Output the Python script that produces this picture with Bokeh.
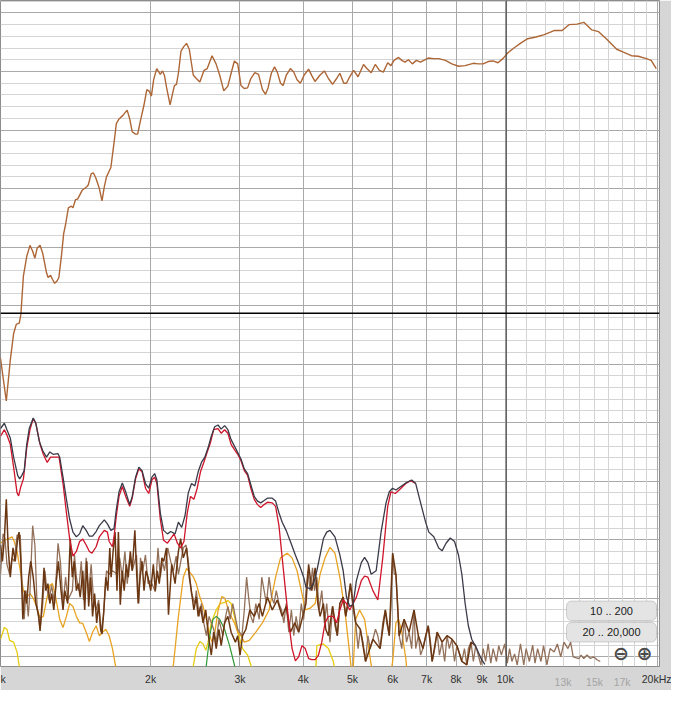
from bokeh.plotting import figure
from bokeh.models import Range1d, FixedTicker, Grid, LogAxis, Span, BoxAnnotation, Label
from bokeh.embed import file_html
from bokeh.resources import INLINE

nan = float("nan")

# ---------------- data (frequency in Hz, level in dB) ----------------
# upper response curve
resp_f = [1012, 1039, 1058, 1074, 1087, 1102, 1110, 1123, 1140, 1157,
          1171, 1183, 1195, 1211, 1226, 1247, 1256, 1270, 1281, 1294,
          1308, 1319, 1334, 1348, 1360, 1377, 1396, 1406, 1422, 1436,
          1466, 1497, 1507, 1527, 1542, 1560, 1585, 1604, 1621, 1637,
          1670, 1694, 1712, 1733, 1764, 1798, 1819, 1840, 1867, 1886,
          1910, 1939, 1966, 1989, 2007, 2028, 2056, 2090, 2111, 2130,
          2151, 2185, 2208, 2228, 2249, 2269, 2296, 2323, 2354, 2384,
          2427, 2461, 2501, 2549, 2586, 2643, 2692, 2736, 2788, 2840,
          2882, 2925, 2970, 3014, 3059, 3106, 3152, 3209, 3264, 3323,
          3369, 3408, 3459, 3510, 3554, 3607, 3650, 3703, 3772, 3829,
          3888, 3946, 4016, 4097, 4157, 4217, 4316, 4400, 4482, 4568,
          4652, 4721, 4806, 4865, 4937, 5026, 5128, 5257, 5338, 5442,
          5545, 5649, 5751, 5866, 5953, 6037, 6162, 6253, 6345, 6446,
          6560, 6681, 6811, 6908, 7051, 7227, 7394, 7621, 7850, 8088,
          8336, 8647, 8848, 9044, 9254, 9459, 9678, 9893, 10123, 10433,
          10746, 11073, 11500, 11937, 12484, 12950, 13353, 13858, 14283, 14816,
          15278, 15855, 16583, 17091, 17729, 18282, 18974, 19395, 19844]
resp_db = [51.0, 43.7, 50.7, 55.2, 56.8, 57.0, 58.5, 65.1, 68.4, 70.3,
           69.3, 68.1, 69.8, 70.3, 68.9, 65.6, 64.8, 65.2, 64.5, 63.8,
           64.2, 64.8, 68.4, 72.3, 73.9, 76.7, 77.0, 76.7, 78.1, 78.2,
           79.7, 80.3, 80.6, 82.5, 82.7, 81.8, 80.0, 77.9, 80.3, 82.0,
           83.6, 87.8, 91.1, 91.9, 92.5, 93.4, 91.9, 89.7, 89.3, 89.3,
           91.6, 94.1, 96.9, 96.6, 95.8, 98.6, 100.5, 99.5, 100.1, 99.3,
           97.2, 94.3, 96.1, 97.6, 97.8, 99.7, 103.5, 104.2, 104.8, 103.8,
           99.4, 98.8, 98.2, 100.2, 100.5, 102.7, 101.3, 99.4, 96.7, 97.5,
           99.7, 101.8, 101.3, 97.6, 97.1, 97.2, 98.8, 99.8, 99.5, 96.9,
           96.1, 97.2, 99.7, 100.8, 99.9, 98.0, 97.6, 99.4, 100.5, 99.9,
           98.6, 98.0, 99.4, 100.4, 99.3, 98.3, 99.4, 100.1, 98.8, 97.8,
           98.8, 99.7, 98.0, 98.0, 99.1, 100.2, 99.1, 101.2, 100.5, 99.8,
           101.2, 100.2, 99.9, 101.5, 101.0, 101.9, 102.4, 101.9, 101.6, 102.0,
           101.3, 101.9, 101.6, 101.9, 102.3, 102.2, 102.2, 101.9, 101.3, 100.9,
           101.0, 101.4, 101.3, 101.3, 101.7, 101.8, 101.5, 102.2, 103.2, 104.1,
           104.9, 105.6, 105.9, 106.3, 107.0, 107.0, 108.0, 108.1, 108.4, 107.1,
           106.8, 105.5, 103.8, 103.3, 102.7, 102.6, 102.2, 101.9, 100.5]

# total distortion (dark)
tot_f = [1012, 1030, 1042, 1058, 1074, 1094, 1104, 1115, 1127, 1140,
         1153, 1174, 1188, 1207, 1226, 1247, 1266, 1285, 1314, 1324,
         1344, 1365, 1385, 1406, 1428, 1449, 1470, 1493, 1515, 1537,
         1562, 1585, 1621, 1644, 1670, 1694, 1712, 1733, 1759, 1786,
         1819, 1840, 1868, 1896, 1924, 1954, 1983, 2012, 2037, 2058,
         2090, 2121, 2159, 2191, 2235, 2269, 2303, 2338, 2373, 2408,
         2445, 2482, 2519, 2558, 2596, 2634, 2675, 2715, 2755, 2798,
         2840, 2882, 2926, 2970, 3014, 3060, 3106, 3152, 3201, 3249,
         3297, 3348, 3398, 3474, 3527, 3581, 3634, 3700, 3772, 3858,
         3946, 4006, 4048, 4126, 4190, 4253, 4316, 4382, 4448, 4514,
         4617, 4721, 4793, 4865, 4937, 5014, 5089, 5204, 5282, 5362,
         5442, 5567, 5692, 5822, 5908, 5999, 6089, 6226, 6369, 6541,
         6661, 6811, 6967, 7070, 7231, 7394, 7508, 7645, 7792, 7945,
         8088, 8213, 8336, 8459, 8590, 8785, 8984, 9119]
tot_db = [39.0, 39.9, 38.8, 37.4, 34.1, 31.0, 30.4, 31.0, 31.8, 36.3,
          39.0, 40.8, 39.9, 36.8, 35.2, 34.1, 35.0, 34.6, 34.7, 34.1,
          30.7, 26.9, 23.5, 21.3, 20.5, 21.0, 22.4, 21.6, 20.6, 20.6,
          21.4, 22.4, 23.4, 22.7, 21.6, 21.9, 25.2, 28.2, 29.7, 28.2,
          26.0, 27.4, 30.7, 32.4, 31.8, 29.6, 28.8, 30.7, 31.3, 30.2,
          24.6, 21.6, 21.0, 21.4, 21.0, 23.0, 22.1, 24.1, 28.0, 29.6,
          29.2, 31.6, 33.2, 34.1, 35.7, 37.7, 39.3, 39.6, 38.9, 39.5,
          38.8, 37.1, 36.0, 34.9, 33.8, 32.1, 31.3, 29.4, 27.4, 26.6,
          26.3, 26.7, 27.1, 27.1, 26.6, 24.6, 23.0, 21.6, 19.7, 17.4,
          15.2, 13.6, 11.9, 11.6, 12.5, 14.7, 17.4, 20.2, 21.3, 21.6,
          20.5, 17.4, 14.7, 10.2, 8.6, 8.9, 13.0, 16.1, 17.0, 16.1,
          14.1, 14.7, 21.3, 26.3, 28.2, 28.8, 28.5, 29.1, 29.7, 30.2,
          29.6, 26.3, 23.0, 21.3, 20.5, 18.6, 18.1, 19.4, 20.3, 19.7,
          17.4, 14.1, 9.1, 5.3, 3.0, 1.4, -0.5, -1.3]

# 2nd harmonic (red)
h2_f = [1012, 1030, 1042, 1058, 1074, 1091, 1099, 1110, 1123, 1140,
        1157, 1174, 1188, 1211, 1229, 1251, 1270, 1294, 1320, 1344,
        1365, 1385, 1406, 1428, 1449, 1470, 1493, 1515, 1533, 1562,
        1585, 1621, 1644, 1657, 1682, 1694, 1712, 1733, 1759, 1786,
        1819, 1840, 1868, 1896, 1924, 1954, 1983, 2012, 2037, 2058,
        2090, 2121, 2159, 2191, 2225, 2259, 2292, 2327, 2362, 2397,
        2434, 2471, 2508, 2546, 2584, 2623, 2663, 2715, 2755, 2798,
        2840, 2882, 2926, 2970, 3014, 3060, 3106, 3152, 3201, 3249,
        3297, 3348, 3398, 3474, 3527, 3581, 3634, 3689, 3745, 3801,
        3858, 3917, 3975, 4035, 4097, 4157, 4221, 4285, 4349, 4414,
        4482, 4583, 4652, 4721, 4793, 4865, 4937, 5014, 5089, 5204,
        5282, 5362, 5485, 5609, 5736, 5866, 5953, 6070, 6179, 6369,
        6512, 6661]
h2_db = [37.7, 38.8, 37.9, 36.3, 32.4, 28.0, 27.5, 29.1, 30.4, 35.7,
         38.8, 40.7, 39.9, 36.3, 34.6, 33.2, 34.1, 34.1, 34.1, 29.6,
         24.6, 20.2, 17.2, 18.0, 19.7, 20.1, 19.1, 18.0, 17.7, 18.8,
         20.5, 21.6, 21.3, 19.7, 18.8, 20.5, 24.1, 27.4, 29.1, 27.4,
         25.7, 27.1, 30.4, 32.1, 31.6, 28.8, 27.9, 30.2, 30.7, 29.6,
         23.5, 19.9, 19.4, 20.2, 21.0, 19.4, 18.6, 19.7, 24.6, 27.4,
         26.9, 28.8, 31.6, 33.2, 34.9, 36.5, 38.8, 39.0, 38.2, 38.8,
         38.2, 36.3, 35.4, 34.6, 33.5, 31.8, 31.0, 28.8, 26.9, 26.0,
         25.5, 26.0, 26.4, 26.3, 25.7, 22.4, 16.9, 11.3, 5.8, 1.4,
         -0.7, 0.0, 1.9, 1.4, -0.3, -0.5, -0.5, 0.3, 2.5, 5.8,
         6.9, 6.9, 5.8, 8.0, 9.7, 9.1, 8.0, 9.1, 10.2, 13.0,
         13.8, 13.6, 11.3, 9.7, 16.9, 25.7, 28.2, 27.9, 28.5, 29.6,
         30.1, 29.6]

# 3rd harmonic (orange), segments separated by nan
h3_f = [1012, 1030, 1050, 1066, 1077, 1091, 1107, 1123, 1140, 1157,
        1174, 1193, 1211, 1229, 1247, 1266, 1281, 1300, 1324, 1344,
        1365, 1385, 1406, 1428, 1449, 1470, 1493, 1515, 1537, 1562,
        1585, 1608, 1632, 1657, 1682, 1702, 1712, nan,
        2198, 2218, 2269, 2320, 2355, 2391, 2426, 2461, 2501, 2538,
        2576, 2616, 2643, 2678, 2715, 2764, 2802, 2840, 2878, 2926,
        2970, 3014, 3060, 3130, 3224, 3322, 3424, 3527, 3607, 3717,
        3801, 3888, 3975, 4035, 4126, 4221, 4316, 4414, 4514, 4617,
        4721, 4828, 4924, 4974, nan,
        5014, 5073, 5164, 5282, 5362, 5442, 5466, nan,
        5966, 5999, 6089, 6163, 6253, 6369, 6398]
h3_db = [19.4, 19.9, 20.2, 20.5, 19.7, 18.0, 14.7, 11.3, 10.2, 10.8,
         10.0, 8.6, 6.6, 6.9, 9.7, 12.2, 12.5, 10.2, 6.4, 5.0,
         6.9, 9.1, 8.6, 6.9, 5.8, 5.7, 4.2, 2.6, 4.2, 5.3,
         3.6, 4.2, 4.7, 3.6, 1.4, -1.1, -2.2, nan,
         -2.2, -1.4, 6.9, 13.6, 15.1, 14.4, 13.7, 12.5, 10.2, 8.6,
         6.4, 3.6, 2.5, 4.2, 7.8, 10.3, 10.0, 8.3, 7.0, 5.8,
         4.2, 3.6, 2.5, 2.8, 4.2, 5.8, 8.0, 13.6, 16.9, 17.7,
         16.9, 14.7, 10.8, 8.0, 8.3, 9.1, 14.1, 16.9, 18.7, 17.7,
         13.6, 8.0, 1.4, -2.2, nan,
         -2.2, 6.4, 8.0, 6.4, 2.5, -1.4, -2.2, nan,
         -2.2, -0.8, 5.8, 6.4, 4.2, -0.3, -2.2]

# 4th harmonic (yellow)
h4_f = [1012, 1030, 1042, 1055, 1074, 1091, 1101, 1105, nan,
        2421, 2461, 2501, 2538, 2569, 2596, 2634, 2694, 2743, 2798,
        2840, 2882, 2926, 2970, 3036, 3106, 3152, 3162, nan,
        4234, 4253, 4382, 4482, 4583, 4610]
h4_db = [3.0, 5.0, 4.7, 2.8, 2.5, 0.8, -1.4, -2.2, nan,
         -2.2, 1.4, 2.6, 2.2, 1.1, 2.5, 5.8, 8.0, 9.1, 9.3,
         9.6, 9.1, 6.9, 4.2, 1.4, 0.3, -1.4, -2.2, nan,
         -2.2, 1.9, 2.2, 1.4, -0.8, -2.2]

# 5th harmonic (green)
h5_f = [2573, 2576, 2616, 2654, 2694, 2736, 2798, 2862, 2926, 2930]
h5_db = [-2.2, -1.4, 3.6, 6.4, 6.9, 6.4, 4.7, 1.9, -1.4, -2.2]

# noise, dark brown
nd_f = [1012, 1021, 1030, 1039, 1048, 1058, 1071, 1082, 1094, 1101,
        1110, 1120, 1130, 1140, 1150, 1161, 1174, 1188, 1204, 1211,
        1222, 1233, 1243, 1255, 1266, 1277, 1289, 1304, 1316, 1332,
        1344, 1355, 1373, 1389, 1402, 1414, 1428, 1441, 1453, 1470,
        1483, 1497, 1510, 1524, 1537, 1551, 1566, 1580, 1594, 1604,
        1618, 1632, 1647, 1662, 1672, 1687, 1702, 1717, 1728, 1743,
        1759, 1774, 1791, 1807, 1824, 1840, 1862, 1879, 1890, 1907,
        1924, 1941, 1959, 1977, 2001, 2025, 2043, 2062, 2080, 2105,
        2123, 2149,
        2169, 2201, 2235, 2269, 2292, 2320, 2355, 2384, 2408, 2434,
        2461, 2482, 2508, 2538, 2569, 2600, 2634, 2663, 2694, 2727,
        2755, 2798, 2840, 2882, 2939, 2970, 3001, 3036, 3082, 3138,
        3201, 3274, 3322, 3398, 3474, 3554, 3634, 3700, 3772, 3848,
        3917, 3975, 4048, 4097, 4157, 4221, 4272, 4316, 4382, 4428,
        4482,
        4568, 4667, 4721, 4793, 4850, 4953, 5073, 5181, 5305, 5485,
        5667, 5804, 5908, 5999, 6089, 6179, 6321, 6463, 6610, 6742,
        6883, 7051, 7178, 7341, 7508, 7679, 7850, 8031, 8213, 8399,
        8562, 8746]
nd_db = [19.1, 16.3, 20.2, 26.9, 18.6, 13.6, 18.6, 16.3, 20.2, 21.3,
         16.3, 6.4, 11.3, 9.1, 13.6, 16.3, 13.6, 9.1, 6.9, 4.4,
         9.1, 15.2, 11.3, 12.5, 9.1, 10.8, 8.0, 13.0, 16.3, 11.3,
         8.0, 11.3, 9.1, 20.2, 13.6, 16.3, 11.3, 12.5, 10.2, 14.7,
         8.0, 16.3, 8.6, 13.6, 6.9, 10.8, 5.8, 9.1, 4.7, 3.9,
         8.0, 13.6, 11.3, 18.6, 13.6, 18.0, 21.3, 11.3, 21.3, 8.9,
         14.7, 11.3, 15.8, 13.6, 18.0, 14.7, 21.6, 13.6, 9.1, 13.6,
         16.3, 11.3, 14.7, 13.6, 11.3, 15.8, 11.3, 14.7, 12.5, 16.9,
         16.3, 18.6,
         7.2, 15.8, 12.5, 18.0, 20.2, 16.9, 18.6, 13.6, 11.1, 8.0,
         10.2, 6.9, 8.6, 5.8, 8.0, 3.6, 0.3, 4.2, 1.4, 4.7,
         1.9, 5.8, 6.9, 4.2, 2.5, 3.6, 0.3, 3.6, 4.7, 8.0,
         6.9, 9.1, 6.9, 10.2, 8.0, 9.7, 6.9, 8.6, 4.2, 5.8,
         4.2, 6.4, 9.1, 15.8, 11.3, 15.2, 9.1, 6.9, 9.1, 4.7,
         3.6,
         8.6, 3.6, 9.1, 10.2, 6.9, 12.5, 5.8, 4.7, -0.8, 3.0,
         1.4, 8.0, 3.6, 17.7, 14.1, 3.6, 6.4, 4.2, 8.0, 3.6,
         1.4, 5.3, -0.8, 4.2, 2.5, 3.6, 3.0, 1.9, -0.8, -1.4,
         2.5, 1.9]

# noise, light brown
nl_f = [1012, 1024, 1033, 1042, 1055, 1066, 1077, 1091, 1107, 1115,
        1127, 1136, 1148, 1157, 1171, 1183, 1195, 1211, 1226, 1238,
        1247, 1262, 1276, 1294, 1314, 1328, 1344, 1360, 1374, 1402,
        1416, 1428, 1444, 1460, 1475, 1493, 1510, 1527, 1544, 1562,
        1580, 1597, 1614, 1637, 1657, 1682, 1720, 1738, 1759, 1780,
        1799, 1819, 1840, 1876, 1896, 1910, 1930, 1954, 1977, 1998,
        2019, 2043, 2068, 2090, 2111, 2130, 2162,
        2191, 2218, 2246, 2269, 2320, 2349, 2373, 2408, 2445, 2461,
        2493, 2519, 2546, 2576, 2608, 2663, 2694, 2727, 2776, 2811,
        2840, 2869, 2904, 2970, 3027, 3060, 3092, 3120, 3152, 3186,
        3224, 3274, 3312, 3348, 3383, 3424, 3464, 3501, 3538, 3581,
        3623, 3662, 3700, 3745, 3789, 3830, 3871, 3917, 3963, 4006,
        4048, 4084, 4126, 4170, 4209, 4253, 4297, 4349, 4402, 4448,
        4514,
        4568, 4617, 4667, 4721, 4793, 4850, 4902, 4953, 5014, 5073,
        5128, 5181, 5243, 5305, 5362, 5418, 5485, 5550, 5609, 5667,
        5736, 5804, 5840, 5908, 5953, 5999, 6043, 6089, 6135, 6179,
        6253, 6321, 6389, 6463, 6541, 6610, 6661, 6742, 6811, 6883,
        6967, 7051, 7124, 7178, 7263, 7341, 7417, 7508, 7597, 7679,
        7758, 7850, 7945, 8031, 8113, 8213, 8310, 8399, 8459, 8562,
        8653, 8746, 8848, 8955, 9050, 9147, 9254, 9365, 9465, 9610,
        9709, 9827, 9975, 10096, 10199, 10307, 10433, 10559, 10716, 10878,
        10995, 11158, 11326, 11448, 11582, 11760, 11900, 12081, 12259,
        12484, 12669, 12864, 13057, 13292, 13454, 13614, 13963, 14110, 14283,
        14494, 14718, 14939, 15160, 15393]
nl_db = [14.1, 21.0, 20.2, 15.8, 14.1, 16.9, 16.3, 20.8, 20.8, 13.0,
         6.4, 11.3, 6.9, 11.3, 22.4, 19.1, 8.6, 4.7, 9.1, 14.7,
         11.9, 9.7, 12.2, 9.1, 19.4, 16.3, 9.1, 13.6, 9.7, 11.3,
         17.4, 13.6, 11.3, 16.3, 9.7, 16.9, 10.8, 15.8, 9.7, 8.0,
         9.7, 4.2, 6.9, 14.7, 14.1, 14.7, 14.1, 16.9, 13.6, 18.0,
         12.5, 16.9, 14.7, 17.4, 9.1, 16.9, 14.7, 17.4, 12.5, 13.0,
         12.2, 11.1, 18.6, 13.6, 16.3, 14.7, 18.6,
         16.3, 14.7, 17.2, 14.1, 18.6, 19.1, 16.3, 10.8, 9.1, 11.3,
         6.9, 9.1, 5.8, 3.6, 6.9, 4.7, 2.5, 6.4, 3.6, 6.9,
         8.6, 6.4, 9.1, 4.7, 3.6, 8.0, 13.6, 10.2, 6.9, 5.8,
         9.1, 6.4, 13.6, 11.3, 9.1, 13.6, 10.2, 9.1, 11.3, 9.1,
         8.0, 5.8, 9.1, 4.2, 8.0, 3.6, 6.9, 4.2, 9.1, 6.4,
         11.3, 14.7, 11.3, 15.2, 11.3, 13.6, 8.0, 11.3, 5.8, 9.1,
         2.5,
         8.6, 5.3, 3.6, 9.1, 10.2, 6.9, 9.1, 12.5, 8.0, 5.8,
         1.4, 4.7, 2.5, -0.8, 3.6, 1.4, 3.0, 4.7, 3.6, 1.4,
         5.8, 8.0, 5.8, 3.6, 8.6, 17.7, 14.1, 14.1, 9.1, 3.6,
         1.4, 6.4, 2.5, 4.2, 1.4, 8.0, 1.4, 3.6, 0.3, 1.4,
         3.6, 5.3, 2.5, -0.8, 1.4, 4.2, 0.3, 2.5, -0.8, 3.6,
         1.4, 3.0, -0.8, 1.9, 0.8, -0.8, 1.4, -1.4, 1.4, 2.5,
         -0.8, 1.9, 0.3, -1.4, 1.4, -0.8, 2.2, -1.1, 1.4, -0.8,
         1.9, 0.3, 2.2, -1.1, 1.4, -0.8, 0.5, -1.4, 2.2, -1.4,
         1.4, -0.8, 2.0, -1.1, 1.4, -0.8, 1.9, -1.4, 1.4,
         0.8, 2.2, 0.0, 2.5, 1.4, 2.5, 0.0, -0.3, 0.3, -0.3,
         0.3, -0.3, 0.0, -0.5, -0.8]

# axis ticks and labels (the leftmost "k" is what remains visible of "1k")
dark_ticks = [1020, 2000, 3000, 4000, 5000, 6000, 7000, 8000, 9000, 10000, 20000]
dark_labels = ["k", "2k", "3k", "4k", "5k", "6k", "7k", "8k", "9k", "10k", "20kHz"]
grey_ticks = [13000, 15000, 17000]
grey_labels = ["13k", "15k", "17k"]
main_freq_lines = [2000, 3000, 4000, 5000, 6000, 7000, 8000, 9000, 10000, 20000]
fine_freq_lines = [11000, 12000, 13000, 14000, 15000, 16000, 17000, 18000, 19000]
major_db_lines = [0, 10, 20, 30, 40, 50, 60, 70, 80, 90, 100, 110]
minor_db_lines = [v for v in range(-2, 113, 2) if v % 10 != 0]

cursor_freq = 10050
cursor_level = 58.7

x_lo, x_hi = 1012, 20140
y_lo, y_hi = -1.66, 112.13

# ---------------- figure ----------------
p = figure(width=671, height=690, x_axis_type="log",
           x_range=Range1d(x_lo, x_hi), y_range=Range1d(y_lo, y_hi),
           output_backend="svg", toolbar_location=None,
           x_axis_location=None, y_axis_location=None,
           min_border_left=0, min_border_right=12, min_border_top=0, min_border_bottom=21)
p.center = [r for r in p.center if not isinstance(r, Grid)]
p.background_fill_color = "white"
p.border_fill_color = "#d6d6d6"
p.outline_line_color = "#8c8c8c"

p.add_layout(Grid(dimension=1, ticker=FixedTicker(ticks=minor_db_lines), grid_line_color="#d4d4d4"))
p.add_layout(Grid(dimension=1, ticker=FixedTicker(ticks=major_db_lines), grid_line_color="#a9a9a9"))
p.add_layout(Grid(dimension=0, ticker=FixedTicker(ticks=fine_freq_lines), grid_line_color="#d4d4d4"))
p.add_layout(Grid(dimension=0, ticker=FixedTicker(ticks=main_freq_lines), grid_line_color="#a9a9a9"))

font = "Liberation Sans"
ax_dark = LogAxis(ticker=FixedTicker(ticks=dark_ticks),
                  major_label_overrides=dict(zip(dark_ticks, dark_labels)),
                  axis_line_color=None, major_tick_line_color=None, minor_tick_line_color=None,
                  major_tick_out=0, major_tick_in=0, minor_tick_out=0,
                  major_label_standoff=6, major_label_text_font=font,
                  major_label_text_font_size="10.5px", major_label_text_color="#303030")
ax_grey = LogAxis(ticker=FixedTicker(ticks=grey_ticks),
                  major_label_overrides=dict(zip(grey_ticks, grey_labels)),
                  axis_line_color=None, major_tick_line_color=None, minor_tick_line_color=None,
                  major_tick_out=0, major_tick_in=0, minor_tick_out=0,
                  major_label_standoff=-12, major_label_text_font=font,
                  major_label_text_font_size="10.5px", major_label_text_color="#a4a4a4")
p.add_layout(ax_dark, "below")
p.add_layout(ax_grey, "below")

# curves
p.line(h4_f, h4_db, line_color="#e6cc10", line_width=1.3)
p.line(h3_f, h3_db, line_color="#e8a322", line_width=1.3)
p.line(h5_f, h5_db, line_color="#2f9a35", line_width=1.2)
p.line(nl_f, nl_db, line_color="#927059", line_width=1.3)
p.line(nd_f, nd_db, line_color="#6b3612", line_width=1.5)
p.line(h2_f, h2_db, line_color="#d0142a", line_width=1.3)
p.line(tot_f, tot_db, line_color="#3a3a48", line_width=1.3)
p.line(resp_f, resp_db, line_color="#ad6636", line_width=1.4)

p.add_layout(Span(location=cursor_freq, dimension="height", line_color="#454545", line_width=1))
p.add_layout(Span(location=cursor_level, dimension="width", line_color="#000000", line_width=1.5))

# range buttons and zoom icons (screen units, frame relative)
for (bot, top, txt) in [(46, 65.5, "10 .. 200"), (24.5, 44, "20 .. 20,000")]:
    p.add_layout(BoxAnnotation(left=566, right=656, bottom=bot, top=top,
                               left_units="screen", right_units="screen",
                               bottom_units="screen", top_units="screen",
                               fill_color="#e4e4e4", fill_alpha=1.0,
                               line_color="#7c7c7c", line_width=1, border_radius=5))
    p.add_layout(Label(x=611, y=(bot + top) / 2, x_units="screen", y_units="screen",
                       text=txt, text_align="center", text_baseline="middle",
                       text_font=font, text_font_size="11px", text_color="#202020"))
for (cx, sym) in [(620.5, "\u2296"), (644, "\u2295")]:
    p.add_layout(Label(x=cx, y=13.5, x_units="screen", y_units="screen", text=sym,
                       text_align="center", text_baseline="middle",
                       text_font="DejaVu Sans", text_font_size="19px",
                       text_font_style="bold", text_color="#4a4a4a"))

open("out.html", "w").write(file_html(p, INLINE))
